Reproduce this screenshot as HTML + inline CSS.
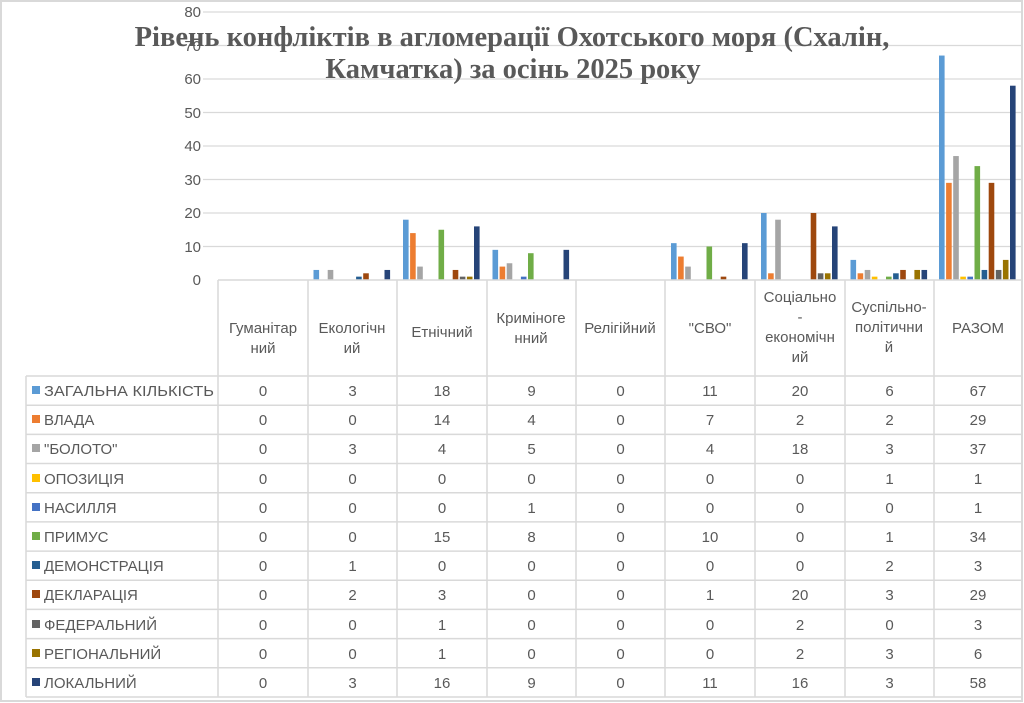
<!DOCTYPE html>
<html><head><meta charset="utf-8"><style>
body{margin:0;background:#fff;}
svg{display:block;}
</style></head><body>
<svg width="1024" height="703" xmlns="http://www.w3.org/2000/svg" font-family="Liberation Sans, DejaVu Sans, sans-serif">
<rect x="0" y="0" width="1024" height="703" fill="#fff"/>
<rect x="1" y="1" width="1021" height="700" fill="none" stroke="#d9d9d9" stroke-width="2"/>
<g stroke="#d9d9d9" stroke-width="1.3">
<line x1="203" y1="12" x2="1022" y2="12"/>
<line x1="203" y1="45.5" x2="1022" y2="45.5"/>
<line x1="203" y1="79" x2="1022" y2="79"/>
<line x1="203" y1="112.5" x2="1022" y2="112.5"/>
<line x1="203" y1="146" x2="1022" y2="146"/>
<line x1="203" y1="179.5" x2="1022" y2="179.5"/>
<line x1="203" y1="213" x2="1022" y2="213"/>
<line x1="203" y1="246.5" x2="1022" y2="246.5"/>
</g>
<g fill="#595959" font-size="15" text-anchor="end">
<text x="201" y="17">80</text><text x="201" y="51">70</text><text x="201" y="84">60</text>
<text x="201" y="118">50</text><text x="201" y="151">40</text><text x="201" y="185">30</text>
<text x="201" y="218">20</text><text x="201" y="252">10</text><text x="201" y="285">0</text>
</g>
<g>
<rect x="313.5" y="269.95" width="5.6" height="10.05" fill="#5B9BD5"/>
<rect x="327.7" y="269.95" width="5.6" height="10.05" fill="#A5A5A5"/>
<rect x="356.1" y="276.65" width="5.6" height="3.35" fill="#255E91"/>
<rect x="363.2" y="273.3" width="5.6" height="6.7" fill="#9E480E"/>
<rect x="384.5" y="269.95" width="5.6" height="10.05" fill="#264478"/>

<rect x="403" y="219.7" width="5.6" height="60.3" fill="#5B9BD5"/>
<rect x="410.1" y="233.1" width="5.6" height="46.9" fill="#ED7D31"/>
<rect x="417.2" y="266.6" width="5.6" height="13.4" fill="#A5A5A5"/>
<rect x="438.5" y="229.75" width="5.6" height="50.25" fill="#70AD47"/>
<rect x="452.7" y="269.95" width="5.6" height="10.05" fill="#9E480E"/>
<rect x="459.8" y="276.65" width="5.6" height="3.35" fill="#636363"/>
<rect x="466.9" y="276.65" width="5.6" height="3.35" fill="#997300"/>
<rect x="474" y="226.4" width="5.6" height="53.6" fill="#264478"/>

<rect x="492.5" y="249.85" width="5.6" height="30.15" fill="#5B9BD5"/>
<rect x="499.6" y="266.6" width="5.6" height="13.4" fill="#ED7D31"/>
<rect x="506.7" y="263.25" width="5.6" height="16.75" fill="#A5A5A5"/>
<rect x="520.9" y="276.65" width="5.6" height="3.35" fill="#4472C4"/>
<rect x="528" y="253.2" width="5.6" height="26.8" fill="#70AD47"/>
<rect x="563.5" y="249.85" width="5.6" height="30.15" fill="#264478"/>

<rect x="671" y="243.15" width="5.6" height="36.85" fill="#5B9BD5"/>
<rect x="678.1" y="256.55" width="5.6" height="23.45" fill="#ED7D31"/>
<rect x="685.2" y="266.6" width="5.6" height="13.4" fill="#A5A5A5"/>
<rect x="706.5" y="246.5" width="5.6" height="33.5" fill="#70AD47"/>
<rect x="720.7" y="276.65" width="5.6" height="3.35" fill="#9E480E"/>
<rect x="742" y="243.15" width="5.6" height="36.85" fill="#264478"/>

<rect x="761" y="213" width="5.6" height="67" fill="#5B9BD5"/>
<rect x="768.1" y="273.3" width="5.6" height="6.7" fill="#ED7D31"/>
<rect x="775.2" y="219.7" width="5.6" height="60.3" fill="#A5A5A5"/>
<rect x="810.7" y="213" width="5.6" height="67" fill="#9E480E"/>
<rect x="817.8" y="273.3" width="5.6" height="6.7" fill="#636363"/>
<rect x="824.9" y="273.3" width="5.6" height="6.7" fill="#997300"/>
<rect x="832" y="226.4" width="5.6" height="53.6" fill="#264478"/>

<rect x="850.5" y="259.9" width="5.6" height="20.1" fill="#5B9BD5"/>
<rect x="857.6" y="273.3" width="5.6" height="6.7" fill="#ED7D31"/>
<rect x="864.7" y="269.95" width="5.6" height="10.05" fill="#A5A5A5"/>
<rect x="871.8" y="276.65" width="5.6" height="3.35" fill="#FFC000"/>
<rect x="886" y="276.65" width="5.6" height="3.35" fill="#70AD47"/>
<rect x="893.1" y="273.3" width="5.6" height="6.7" fill="#255E91"/>
<rect x="900.2" y="269.95" width="5.6" height="10.05" fill="#9E480E"/>
<rect x="914.4" y="269.95" width="5.6" height="10.05" fill="#997300"/>
<rect x="921.5" y="269.95" width="5.6" height="10.05" fill="#264478"/>

<rect x="939" y="55.55" width="5.6" height="224.45" fill="#5B9BD5"/>
<rect x="946.1" y="182.85" width="5.6" height="97.15" fill="#ED7D31"/>
<rect x="953.2" y="156.05" width="5.6" height="123.95" fill="#A5A5A5"/>
<rect x="960.3" y="276.65" width="5.6" height="3.35" fill="#FFC000"/>
<rect x="967.4" y="276.65" width="5.6" height="3.35" fill="#4472C4"/>
<rect x="974.5" y="166.1" width="5.6" height="113.9" fill="#70AD47"/>
<rect x="981.6" y="269.95" width="5.6" height="10.05" fill="#255E91"/>
<rect x="988.7" y="182.85" width="5.6" height="97.15" fill="#9E480E"/>
<rect x="995.8" y="269.95" width="5.6" height="10.05" fill="#636363"/>
<rect x="1002.9" y="259.9" width="5.6" height="20.1" fill="#997300"/>
<rect x="1010" y="85.7" width="5.6" height="194.3" fill="#264478"/>
</g>
<g stroke="#d9d9d9" stroke-width="1.5" fill="none">
<line x1="218" y1="280" x2="1022" y2="280"/>
<line x1="26" y1="376" x2="1022" y2="376"/>
<line x1="26" y1="405.2" x2="1022" y2="405.2"/>
<line x1="26" y1="434.4" x2="1022" y2="434.4"/>
<line x1="26" y1="463.5" x2="1022" y2="463.5"/>
<line x1="26" y1="492.7" x2="1022" y2="492.7"/>
<line x1="26" y1="521.9" x2="1022" y2="521.9"/>
<line x1="26" y1="551.1" x2="1022" y2="551.1"/>
<line x1="26" y1="580.3" x2="1022" y2="580.3"/>
<line x1="26" y1="609.4" x2="1022" y2="609.4"/>
<line x1="26" y1="638.6" x2="1022" y2="638.6"/>
<line x1="26" y1="667.8" x2="1022" y2="667.8"/>
<line x1="26" y1="697" x2="1022" y2="697"/>
<line x1="26" y1="376" x2="26" y2="697"/>
<line x1="218" y1="280" x2="218" y2="697"/>
<line x1="308" y1="280" x2="308" y2="697"/>
<line x1="397" y1="280" x2="397" y2="697"/>
<line x1="487" y1="280" x2="487" y2="697"/>
<line x1="576" y1="280" x2="576" y2="697"/>
<line x1="665" y1="280" x2="665" y2="697"/>
<line x1="755" y1="280" x2="755" y2="697"/>
<line x1="845" y1="280" x2="845" y2="697"/>
<line x1="934" y1="280" x2="934" y2="697"/>
<line x1="1022" y1="280" x2="1022" y2="697"/>
</g>
<g fill="#595959" font-size="15" text-anchor="middle">
<text x="263" y="333">Гуманітар</text><text x="263" y="353">ний</text>
<text x="352" y="333">Екологічн</text><text x="352" y="353">ий</text>
<text x="442" y="337">Етнічний</text>
<text x="531" y="323">Криміноге</text><text x="531" y="343">нний</text>
<text x="620" y="333">Релігійний</text>
<text x="710" y="333">"СВО"</text>
<text x="800" y="302">Соціально</text><text x="800" y="322">-</text><text x="800" y="342">економічн</text><text x="800" y="362">ий</text>
<text x="889" y="312">Суспільно-</text><text x="889" y="332">політични</text><text x="889" y="352">й</text>
<text x="978" y="333">РАЗОМ</text>
</g>
<g>
<rect x="32" y="386" width="8" height="8" fill="#5B9BD5"/>
<rect x="32" y="415" width="8" height="8" fill="#ED7D31"/>
<rect x="32" y="444" width="8" height="8" fill="#A5A5A5"/>
<rect x="32" y="474" width="8" height="8" fill="#FFC000"/>
<rect x="32" y="503" width="8" height="8" fill="#4472C4"/>
<rect x="32" y="532" width="8" height="8" fill="#70AD47"/>
<rect x="32" y="561" width="8" height="8" fill="#255E91"/>
<rect x="32" y="590" width="8" height="8" fill="#9E480E"/>
<rect x="32" y="620" width="8" height="8" fill="#636363"/>
<rect x="32" y="649" width="8" height="8" fill="#997300"/>
<rect x="32" y="678" width="8" height="8" fill="#264478"/>
</g>
<g fill="#595959" font-size="15">
<text x="44" y="396" textLength="170" lengthAdjust="spacingAndGlyphs">ЗАГАЛЬНА КІЛЬКІСТЬ</text>
<text x="44" y="425">ВЛАДА</text>
<text x="44" y="454">"БОЛОТО"</text>
<text x="44" y="484">ОПОЗИЦІЯ</text>
<text x="44" y="513">НАСИЛЛЯ</text>
<text x="44" y="542">ПРИМУС</text>
<text x="44" y="571">ДЕМОНСТРАЦІЯ</text>
<text x="44" y="600">ДЕКЛАРАЦІЯ</text>
<text x="44" y="630">ФЕДЕРАЛЬНИЙ</text>
<text x="44" y="659">РЕГІОНАЛЬНИЙ</text>
<text x="44" y="688">ЛОКАЛЬНИЙ</text>
</g>
<g fill="#595959" font-size="15" text-anchor="middle">
<text y="396"><tspan x="263">0</tspan><tspan x="352.5">3</tspan><tspan x="442">18</tspan><tspan x="531.5">9</tspan><tspan x="620.5">0</tspan><tspan x="710">11</tspan><tspan x="800">20</tspan><tspan x="889.5">6</tspan><tspan x="978">67</tspan></text>
<text y="425"><tspan x="263">0</tspan><tspan x="352.5">0</tspan><tspan x="442">14</tspan><tspan x="531.5">4</tspan><tspan x="620.5">0</tspan><tspan x="710">7</tspan><tspan x="800">2</tspan><tspan x="889.5">2</tspan><tspan x="978">29</tspan></text>
<text y="454"><tspan x="263">0</tspan><tspan x="352.5">3</tspan><tspan x="442">4</tspan><tspan x="531.5">5</tspan><tspan x="620.5">0</tspan><tspan x="710">4</tspan><tspan x="800">18</tspan><tspan x="889.5">3</tspan><tspan x="978">37</tspan></text>
<text y="484"><tspan x="263">0</tspan><tspan x="352.5">0</tspan><tspan x="442">0</tspan><tspan x="531.5">0</tspan><tspan x="620.5">0</tspan><tspan x="710">0</tspan><tspan x="800">0</tspan><tspan x="889.5">1</tspan><tspan x="978">1</tspan></text>
<text y="513"><tspan x="263">0</tspan><tspan x="352.5">0</tspan><tspan x="442">0</tspan><tspan x="531.5">1</tspan><tspan x="620.5">0</tspan><tspan x="710">0</tspan><tspan x="800">0</tspan><tspan x="889.5">0</tspan><tspan x="978">1</tspan></text>
<text y="542"><tspan x="263">0</tspan><tspan x="352.5">0</tspan><tspan x="442">15</tspan><tspan x="531.5">8</tspan><tspan x="620.5">0</tspan><tspan x="710">10</tspan><tspan x="800">0</tspan><tspan x="889.5">1</tspan><tspan x="978">34</tspan></text>
<text y="571"><tspan x="263">0</tspan><tspan x="352.5">1</tspan><tspan x="442">0</tspan><tspan x="531.5">0</tspan><tspan x="620.5">0</tspan><tspan x="710">0</tspan><tspan x="800">0</tspan><tspan x="889.5">2</tspan><tspan x="978">3</tspan></text>
<text y="600"><tspan x="263">0</tspan><tspan x="352.5">2</tspan><tspan x="442">3</tspan><tspan x="531.5">0</tspan><tspan x="620.5">0</tspan><tspan x="710">1</tspan><tspan x="800">20</tspan><tspan x="889.5">3</tspan><tspan x="978">29</tspan></text>
<text y="630"><tspan x="263">0</tspan><tspan x="352.5">0</tspan><tspan x="442">1</tspan><tspan x="531.5">0</tspan><tspan x="620.5">0</tspan><tspan x="710">0</tspan><tspan x="800">2</tspan><tspan x="889.5">0</tspan><tspan x="978">3</tspan></text>
<text y="659"><tspan x="263">0</tspan><tspan x="352.5">0</tspan><tspan x="442">1</tspan><tspan x="531.5">0</tspan><tspan x="620.5">0</tspan><tspan x="710">0</tspan><tspan x="800">2</tspan><tspan x="889.5">3</tspan><tspan x="978">6</tspan></text>
<text y="688"><tspan x="263">0</tspan><tspan x="352.5">3</tspan><tspan x="442">16</tspan><tspan x="531.5">9</tspan><tspan x="620.5">0</tspan><tspan x="710">11</tspan><tspan x="800">16</tspan><tspan x="889.5">3</tspan><tspan x="978">58</tspan></text>
</g>
<g fill="#595959" font-family="Liberation Serif, DejaVu Serif, serif" font-weight="bold" font-size="28.5" text-anchor="middle">
<text x="512" y="46">Рівень конфліктів в агломерації Охотського моря (Схалін,</text>
<text x="513" y="78">Камчатка) за осінь 2025 року</text>
</g>
</svg>
</body></html>
